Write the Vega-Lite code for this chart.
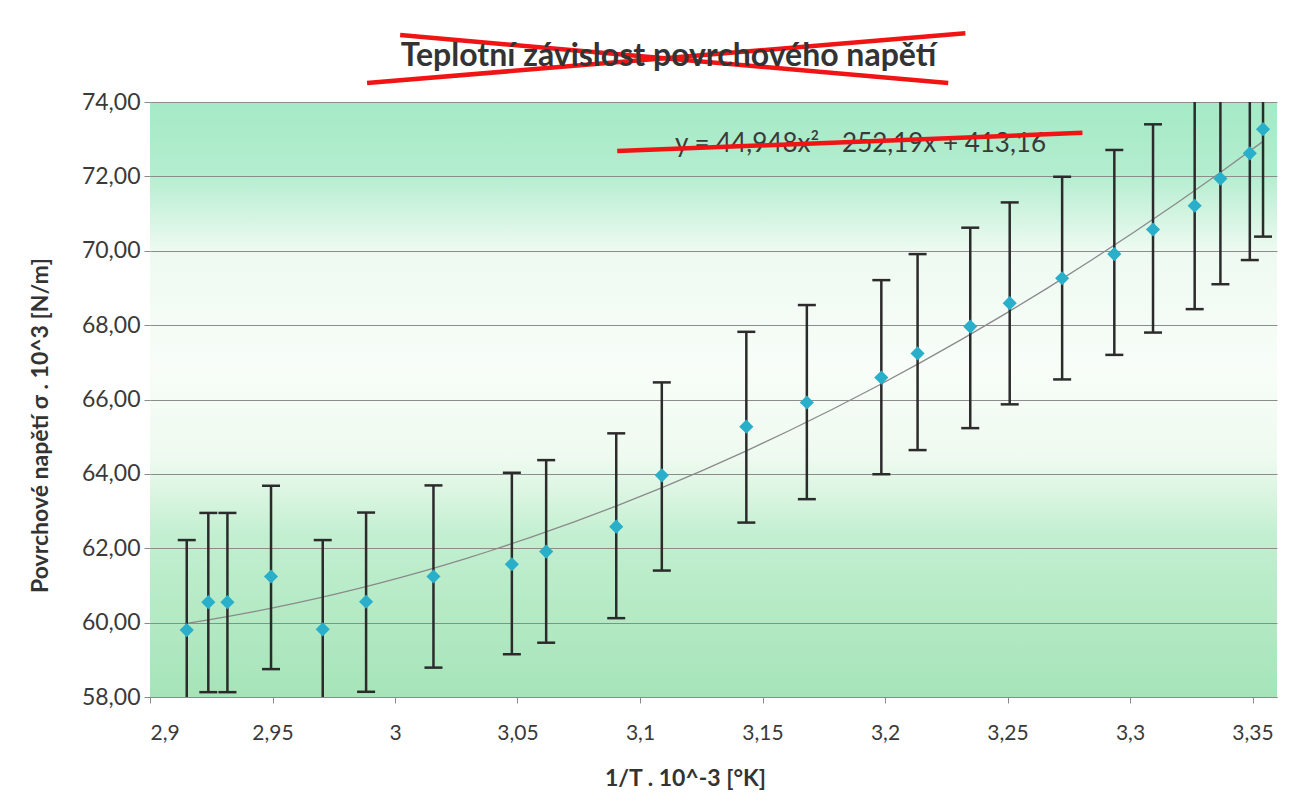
{
  "$schema": "https://vega.github.io/schema/vega-lite/v6.json",
  "width": 1127,
  "height": 595,
  "autosize": {"type": "none"},
  "padding": {"left": 150, "top": 102, "right": 23, "bottom": 114},
  "background": "white",
  "config": {
    "font": "Lato",
    "view": {
      "stroke": null,
      "fill": {
        "gradient": "linear",
        "x1": 0, "y1": 0, "x2": 0, "y2": 1,
        "stops": [
          {"offset": 0, "color": "#a5eac6"},
          {"offset": 0.12, "color": "#b3edcf"},
          {"offset": 0.25, "color": "#eefaf1"},
          {"offset": 0.45, "color": "#f8fdf8"},
          {"offset": 0.6, "color": "#eefaef"},
          {"offset": 0.73, "color": "#c2efd0"},
          {"offset": 1, "color": "#a6e4b8"}
        ]
      }
    }
  },
  "title": {
    "text": "Teplotní závislost povrchového napětí",
    "fontSize": 32,
    "fontWeight": "bold",
    "font": "Lato",
    "color": "#333333",
    "anchor": "middle",
    "baseline": "middle",
    "offset": 33,
    "dx": -45,
    "dy": 90
  },
  "datasets": {
    "points": [
      {"invT": 2.9150, "sigma": 59.80, "lo": 57.41, "hi": 62.22},
      {"invT": 2.9238, "sigma": 60.55, "lo": 58.13, "hi": 62.95},
      {"invT": 2.9316, "sigma": 60.55, "lo": 58.13, "hi": 62.95},
      {"invT": 2.9494, "sigma": 61.24, "lo": 58.75, "hi": 63.68},
      {"invT": 2.9705, "sigma": 59.82, "lo": 57.42, "hi": 62.22},
      {"invT": 2.9882, "sigma": 60.56, "lo": 58.14, "hi": 62.96},
      {"invT": 3.0157, "sigma": 61.24, "lo": 58.79, "hi": 63.69},
      {"invT": 3.0477, "sigma": 61.57, "lo": 59.15, "hi": 64.03},
      {"invT": 3.0617, "sigma": 61.91, "lo": 59.46, "hi": 64.37},
      {"invT": 3.0903, "sigma": 62.58, "lo": 60.12, "hi": 65.09},
      {"invT": 3.1089, "sigma": 63.96, "lo": 61.40, "hi": 66.46},
      {"invT": 3.1434, "sigma": 65.27, "lo": 62.69, "hi": 67.82},
      {"invT": 3.1681, "sigma": 65.92, "lo": 63.32, "hi": 68.54},
      {"invT": 3.1985, "sigma": 66.59, "lo": 63.99, "hi": 69.21},
      {"invT": 3.2133, "sigma": 67.24, "lo": 64.64, "hi": 69.91},
      {"invT": 3.2348, "sigma": 67.96, "lo": 65.23, "hi": 70.62},
      {"invT": 3.2509, "sigma": 68.59, "lo": 65.87, "hi": 71.30},
      {"invT": 3.2723, "sigma": 69.26, "lo": 66.54, "hi": 71.99},
      {"invT": 3.2936, "sigma": 69.91, "lo": 67.20, "hi": 72.71},
      {"invT": 3.3094, "sigma": 70.57, "lo": 67.80, "hi": 73.40},
      {"invT": 3.3264, "sigma": 71.21, "lo": 68.43, "hi": 74.13},
      {"invT": 3.3369, "sigma": 71.94, "lo": 69.10, "hi": 74.80},
      {"invT": 3.3489, "sigma": 72.62, "lo": 69.75, "hi": 75.50},
      {"invT": 3.3543, "sigma": 73.27, "lo": 70.38, "hi": 76.20}
    ],
    "labels": [
      {"invT": 3.19, "sigma": 72.87, "label": "y = 44,948x² - 252,19x + 413,16"}
    ],
    "strikes": [
      {"invT": 3.0021, "sigma": 75.80, "invT2": 3.2258, "sigma2": 74.51},
      {"invT": 2.9886, "sigma": 74.51, "invT2": 3.2328, "sigma2": 75.85},
      {"invT": 3.0907, "sigma": 72.68, "invT2": 3.2806, "sigma2": 73.17}
    ]
  },
  "encoding": {
    "x": {
      "field": "invT",
      "type": "quantitative",
      "scale": {"domain": [2.9, 3.36], "nice": false, "zero": false},
      "axis": {
        "values": [2.9, 2.95, 3, 3.05, 3.1, 3.15, 3.2, 3.25, 3.3, 3.35],
        "labelExpr": "replace(format(datum.value, '~g'), '.', ',')",
        "grid": false,
        "domainColor": "#8a8a8a",
        "tickColor": "#8a8a8a",
        "tickSize": 6,
        "labelFontSize": 21,
        "labelColor": "#3a3a3a",
        "labelPadding": 19,
        "title": "1/T . 10^-3 [°K]",
        "titleFontSize": 23,
        "titleFontWeight": "bold",
        "titleColor": "#333333",
        "titleX": 535,
        "titleY": 81,
        "titleBaseline": "middle",
        "titleAlign": "center"
      }
    }
  },
  "layer": [
    {
      "data": {"name": "points"},
      "transform": [{"regression": "sigma", "on": "invT", "method": "poly", "order": 2}],
      "mark": {"type": "line", "color": "#8a8a8a", "strokeWidth": 1.3},
      "encoding": {
        "y": {
          "field": "sigma",
          "type": "quantitative",
          "scale": {"domain": [58, 74], "nice": false, "zero": false},
          "axis": {
            "values": [58, 60, 62, 64, 66, 68, 70, 72, 74],
            "labelExpr": "replace(format(datum.value, '.2f'), '.', ',')",
            "grid": true,
            "gridColor": "#8c8c8c",
            "gridWidth": 1,
            "domain": false,
            "tickColor": "#8a8a8a",
            "tickSize": 6,
            "labelFontSize": 23,
            "labelColor": "#3a3a3a",
            "labelPadding": 4,
            "title": "Povrchové napětí σ . 10^3 [N/m]",
            "titleFontSize": 23,
            "titleFontWeight": "bold",
            "titleColor": "#333333",
            "titleAngle": 270,
            "titleX": -110,
            "titleY": 323,
            "titleBaseline": "middle",
            "titleAlign": "center"
          }
        }
      }
    },
    {
      "data": {"name": "points"},
      "mark": {"type": "rule", "color": "#2b2b2b", "strokeWidth": 2.5, "clip": true},
      "encoding": {
        "y": {"field": "lo", "type": "quantitative", "title": "Povrchové napětí σ . 10^3 [N/m]"},
        "y2": {"field": "hi"}
      }
    },
    {
      "data": {"name": "points"},
      "mark": {"type": "tick", "orient": "horizontal", "color": "#2b2b2b", "size": 18, "thickness": 2.5, "opacity": 1, "clip": true},
      "encoding": {
        "y": {"field": "lo", "type": "quantitative", "title": "Povrchové napětí σ . 10^3 [N/m]"}
      }
    },
    {
      "data": {"name": "points"},
      "mark": {"type": "tick", "orient": "horizontal", "color": "#2b2b2b", "size": 18, "thickness": 2.5, "opacity": 1, "clip": true},
      "encoding": {
        "y": {"field": "hi", "type": "quantitative", "title": "Povrchové napětí σ . 10^3 [N/m]"}
      }
    },
    {
      "data": {"name": "points"},
      "mark": {"type": "point", "shape": "diamond", "filled": true, "size": 200, "color": "#29afc9", "opacity": 1},
      "encoding": {
        "y": {"field": "sigma", "type": "quantitative", "title": "Povrchové napětí σ . 10^3 [N/m]"}
      }
    },
    {
      "data": {"name": "labels"},
      "mark": {"type": "text", "fontSize": 26, "color": "#3a3a3a", "font": "Lato", "align": "center", "baseline": "middle"},
      "encoding": {
        "y": {"field": "sigma", "type": "quantitative", "title": "Povrchové napětí σ . 10^3 [N/m]"},
        "text": {"field": "label", "type": "nominal"}
      }
    },
    {
      "data": {"name": "strikes"},
      "mark": {"type": "rule", "color": "#f01414", "strokeWidth": 4.5, "clip": false},
      "encoding": {
        "y": {"field": "sigma", "type": "quantitative", "title": "Povrchové napětí σ . 10^3 [N/m]"},
        "x2": {"field": "invT2"},
        "y2": {"field": "sigma2"}
      }
    }
  ]
}
